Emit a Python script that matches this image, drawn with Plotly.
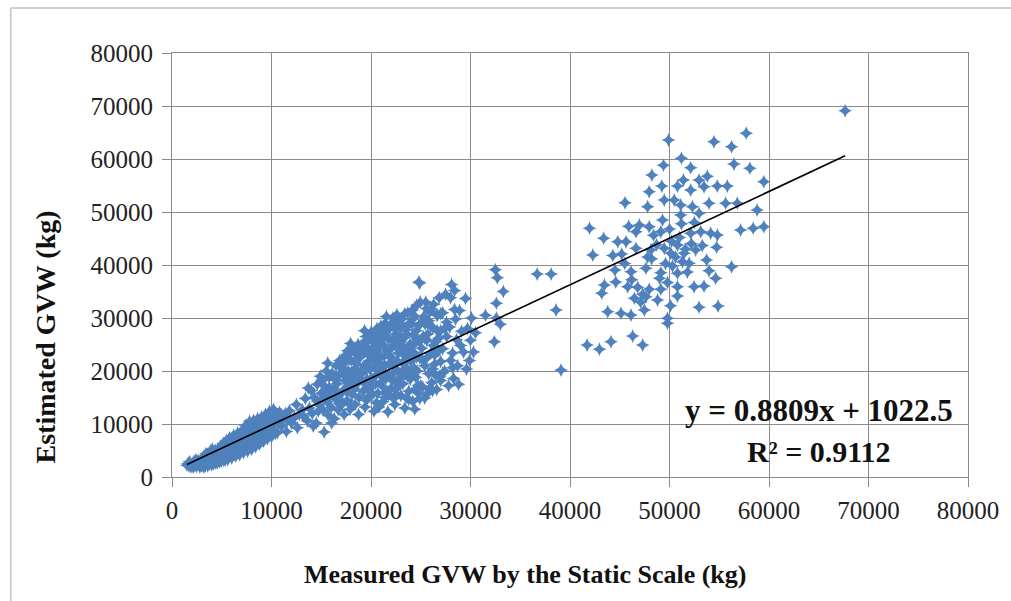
import plotly.graph_objects as go

# Measured GVW (x, kg) vs estimated GVW (y, kg), per cluster
light_trucks = [
    (1500,2200),(1600,2500),(1700,2100),(1800,2700),(1900,2300),(2000,2000),(2100,2600),(2200,2900),
    (2300,2200),(2400,2500),(2500,3100),(2600,2300),(2700,2700),(2800,1900),(2900,2500),(3000,3300),
    (2150,1900),(2450,2000),(2750,2300),(2950,2100),(1750,2900),(2350,3200),(2650,3000),(3050,2700),(1850,2000),
    (3100,2200),(3200,3000),(3300,3600),(3400,2500),(3500,3300),(3600,2800),(3700,4000),(3800,3000),
    (3900,2600),(4000,3700),(4100,4300),(4200,3200),(4300,2800),(4400,4000),(4500,3500),(4600,4700),
    (4700,3100),(4800,4200),(4900,3700),(5000,5000),(3150,3800),(3350,2100),(3550,4300),(3750,2400),
    (3950,4600),(4150,2500),(4350,5000),(4550,2700),(4750,5300),(4950,3000),(3450,3900),(3650,3500),
    (3850,4900),(4050,3100),(4250,4800),(4450,3300),(4650,4100),(4850,5700),(4050,5300),(4600,3600),
    (5100,3500),(5200,4500),(5300,5600),(5400,4000),(5500,3800),(5600,5200),(5700,6300),(5800,4600),
    (5900,4100),(6000,5800),(6100,6700),(6200,5000),(6300,4300),(6400,6200),(6500,7300),(6600,5400),
    (6700,4700),(6800,6600),(6900,7700),(7000,5600),(5150,6300),(5350,3200),(5450,6900),(5650,3600),
    (5750,7100),(5950,5300),(6050,4400),(6150,7500),(6350,5700),(6450,4600),(6550,8000),(6750,6000),
    (6850,5000),(6950,8400),(5250,5000),(5550,5900),(5850,6700),(6250,6900),(6650,7000),(5050,4300),
    (5350,4900),(5650,4500),(6050,6400),(6450,5500),(6850,7200),
    (7100,6100),(7200,7000),(7300,5300),(7400,8200),(7500,6500),(7600,5800),(7700,7600),(7800,9000),
    (7900,6300),(8000,7300),(8100,8600),(8200,5900),(8300,7800),(8400,9600),(8500,6800),(8600,8200),
    (8700,7200),(8800,10000),(8900,8600),(9000,7400),(7150,8900),(7250,5800),(7350,7400),(7450,9300),
    (7550,7000),(7650,6200),(7750,8300),(7850,10000),(7950,5500),(8050,8000),(8150,9900),(8250,6900),
    (8350,8800),(8450,10300),(8550,7600),(8650,9100),(8750,6400),(8850,9300),(8950,10500),(7050,7300),
    (7550,8700),(8050,6500),(8550,10400),(7350,6500),(8850,7900),
    (9100,9500),(9200,8100),(9300,10800),(9400,8800),(9500,10100),(9600,7700),(9700,11000),(9800,9300),
    (9900,10500),(10000,8600),(10100,11500),(10200,9700),(10400,10600),(10600,8400),(10800,12200),
    (11000,9600),(11200,11000),(11500,8600),(11800,12500),(12000,10200),(12300,11200),(12600,9300),
    (9250,9200),(9650,9700),(10300,12200),(10700,10100),(11400,12000),(12500,13700),(12800,11800),(13100,12700),
    (3200,1900),(3600,2100),(4000,2300),(4400,2600),(4800,2900),(5200,3100),(5600,3300),(6000,3600),
    (6400,3900),(6800,4200),(7200,4600),(7600,4900),(8000,5300),(8400,5700),(8800,6200),(9200,6800),
    (9600,7200),(10000,7600),(10400,8200),(3400,4400),(3800,4200),(4200,4500),(4600,5300),(5000,5800),
    (5400,6200),(5800,7400),(6200,7900),(6600,8300),(7000,8600),(7400,9700),(7800,10500),(8200,10700),
    (8600,11000),(9000,11300),(9400,11800),(9800,12400),(10200,12800),(5500,4700),(6000,5000),(6500,5000),
    (7000,6600),(7500,7600),(8000,8800),(8500,9000),(9000,9800),(9500,8700),(10000,10300),(10500,11300),
    (11000,11800),(11600,10700),
]

medium_trucks = [
    (13200,11500),(13400,14800),(13600,10600),(13800,13000),(14000,16300),(14100,12000),(14300,15000),
    (14500,10200),(14600,17500),(14800,13600),(14900,19000),(13700,16800),(14200,9600),(14700,12400),(15000,15800),
    (15100,18200),(15200,12600),(15300,8500),(15400,16000),(15500,20000),(15600,14200),(15700,11700),
    (15800,18800),(15900,15300),(16000,13100),(16100,19600),(16200,16800),(16300,11000),(16400,14800),
    (16500,21000),(16600,17600),(16700,12700),(16800,19200),(16900,15600),(17000,13600),(15250,17300),
    (15650,21500),(16050,10200),(16450,18300),(16850,22000),
    (17100,20600),(17200,16300),(17300,11800),(17400,18200),(17500,23000),(17600,14500),(17700,20000),
    (17800,17100),(17900,12800),(18000,22000),(18100,15600),(18200,24000),(18300,19300),(18400,13700),
    (18500,21400),(18600,17600),(18700,25000),(18800,15000),(18900,22700),(19000,19800),(17150,14000),
    (17550,18800),(17950,25200),(18350,16600),(18750,11800),(17650,23800),(18050,13500),(18450,23300),
    (18850,18400),(17350,21500),
    (19100,24300),(19200,16200),(19300,21000),(19400,13200),(19500,26500),(19600,18500),(19700,23200),
    (19800,15300),(19900,20300),(20000,27300),(20100,17100),(20200,22300),(20300,12400),(20400,25200),
    (20500,19200),(20600,28000),(20700,15800),(20800,21600),(20900,24600),(21000,17900),(19150,19600),
    (19350,27600),(19550,14500),(19750,21800),(19950,17200),(20150,26000),(20350,20800),(20550,14000),
    (20750,27200),(20950,22600),(19250,23600),(19650,16800),(20050,24000),(20450,17600),(20850,19500),
    (21100,25900),(21200,14200),(21300,22800),(21400,29000),(21500,18600),(21600,26500),(21700,12300),
    (21800,21300),(21900,28100),(22000,16700),(22100,24500),(22200,30000),(22300,19700),(22400,13700),
    (22500,27000),(22600,22000),(22700,17000),(22800,29500),(22900,24000),(23000,15400),(21050,20200),
    (21250,27300),(21450,16000),(21650,23800),(21850,19000),(22050,29000),(22250,14800),(22450,25000),
    (22650,20200),(22850,26600),(21150,17100),(21350,24700),(21550,30300),(21750,15500),(21950,22600),
    (22150,18200),(22350,28000),(22550,15600),(22750,23400),(22950,19500),(21400,21000),(21800,26000),
    (22200,21200),(22600,28600),(23000,25500),
    (23100,29800),(23200,17600),(23300,23000),(23400,13000),(23500,27800),(23600,20500),(23700,31000),
    (23800,16200),(23900,25000),(24000,21800),(24100,28800),(24200,14300),(24300,23500),(24400,30400),
    (24500,18800),(24600,26000),(24700,15900),(24800,36800),(24900,22500),(25000,29000),(23150,21500),
    (23350,26300),(23550,15000),(23750,24000),(23950,18500),(24150,31500),(24350,20500),(24550,27600),
    (24750,17300),(24950,33000),(23250,28300),(23650,19000),(24050,24700),(24450,16600),(24850,25600),
    (23450,22000),(23850,29000),(24250,26800),(24650,20000),(24900,14800),
    (25100,24300),(25200,17000),(25300,30300),(25400,21000),(25500,33000),(25600,15600),(25700,27000),
    (25800,19500),(25900,31200),(26000,23300),(26100,17800),(26200,28200),(26300,32600),(26400,21300),
    (26500,25500),(26600,16500),(26700,30500),(26800,23800),(26900,18900),(27000,27600),(25250,26500),
    (25650,22600),(26050,31700),(26450,19300),(26850,33800),(25450,28800),(25850,16600),(26250,24800),
    (26650,27600),(27000,21800),
    (27200,31000),(27400,20000),(27600,26500),(27800,17200),(28000,33800),(28100,36300),(28200,23400),
    (28300,18600),(28500,29800),(28600,25900),(28700,21000),(28900,31400),(29100,27500),(29300,23600),
    (29500,33700),(29700,28000),(29900,22000),(30000,25800),(30100,30000),(30300,23600),(27500,34500),
    (27900,28300),(28400,35200),(28800,17500),(29600,20400),
    (17200,19500),(17600,16000),(18000,18000),(18400,20500),(18800,22500),(19200,20000),(19600,24500),
    (20000,18500),(20400,22800),(20800,26000),(21200,19600),(21600,24200),(22000,21600),(22400,26300),
    (22800,18600),(23200,24600),(23600,27000),(24000,19400),(24400,25200),(24800,28600),(25200,22000),
    (25600,25800),(26000,28500),(26400,23000),(26800,26200),(27200,24200),(27600,29200),(28000,22000),
    (18200,17000),(18600,19800),(19000,23000),(19400,17600),(19800,26000),(20200,15600),(20600,23600),
    (21000,28500),(21400,15000),(21800,23000),(22200,25800),(22600,17800),(23000,28000),(23400,19600),
    (23800,23000),(24200,29800),(24600,22600),(25000,17200),(25400,26200),(25800,29500),(26200,20400),
    (26600,30600),(27000,18200),(27400,28000),(16400,16300),(16800,13800),(17200,22400),(15800,16900),
    (15200,14800),(14600,14300),(19400,25600),(20800,13200),(22400,16500),(23800,14600),(24400,12800),
    (25400,14900),(26200,16300),(27200,19600),(28200,20600),(29000,24800),(28400,31600),(27000,30800),
    (25600,31800),(24600,32400),(23400,30800),(22600,30600),(21600,28200),(20600,26600),(19600,25800),
    (18600,23400),(17800,22200),(16800,21000),
]

transition_trucks = [
    (30500,27200),(31500,30500),(32500,39100),(32700,37600),(33300,35000),(32600,32800),(32600,30000),
    (32400,25500),(33000,28800),(36700,38300),(38100,38300),(38600,31500),(39100,20200),(24900,36600),
]

heavy_trucks = [
    (67650,69120),(49900,63590),(54470,63270),(56240,62330),(57710,64860),(51200,60140),(49400,58820),
    (52130,58330),(56480,59060),(58080,58250),(48230,56990),(59480,55720),(49230,54910),(50800,54910),
    (51400,56040),(52970,56040),(53800,56740),(53470,54780),(54800,54910),(55810,54910),(52130,54160),
    (47960,53840),(45530,51760),(47800,51010),(49470,52270),(50470,52270),(51130,51330),(52300,51010),
    (53970,51640),(55640,51640),(56810,51640),(58810,50380),(52970,49760),(49300,48500),(51130,49440),
    (41960,46930),(46970,47550),(47960,47230),(49130,46290),(57140,46610),(58410,46930),(59480,47230),
    (46630,46290),(43390,45050),(44800,44410),(45630,44410),(53140,46290),(54140,45980),(54810,45670),
    (52130,45980),(42290,41890),(45200,42080),(46630,43150),(48130,42830),(49470,43150),(50130,42210),
    (50800,43780),(51470,42210),(51300,40630),(51970,40320),(52630,42830),(53730,40950),(54740,43350),
    (44520,39060),(46130,38740),(47630,39380),(49130,38560),(50800,38440),(53970,38930),(54640,37500),
    (56240,39680),(43460,36230),(43190,34660),(45800,35910),(46800,35790),(47960,35420),(49130,35420),
    (50800,35910),(52470,35910),(53470,36040),(46470,33720),(47630,34020),(48800,33400),(50800,34150),
    (43790,31190),(45130,30890),(46130,30570),(47470,31510),(49800,29950),(49800,29000),(52970,32020),
    (54880,32270),(41720,24910),(42960,24100),(44120,25530),(46300,26610),(47300,24910),(47300,34500),
    (48200,41200),(48700,43800),(49600,40300),(50200,44500),(50600,41500),(51000,45200),(51600,43000),
    (51800,38700),(52200,44000),(49000,37500),(50300,39800),(47800,41500),(50000,46800),(51200,47800),
    (52500,48000),(53300,43700),(48400,45600),(49800,36700),(50100,32300),(46200,37200),(45500,40300),
    (44300,41800),(45900,47300),(44600,36800),(47100,33000),
]

trend_slope = 0.8809
trend_intercept = 1022.5
axis_ticks = [0, 10000, 20000, 30000, 40000, 50000, 60000, 70000, 80000]
x_title = "Measured GVW by the Static Scale (kg)"
y_title = "Estimated GVW (kg)"
eq_text = "y = 0.8809x + 1022.5"
r2_text = "R² = 0.9112"

all_points = light_trucks + medium_trucks + transition_trucks + heavy_trucks
measured_gvw = [p[0] for p in all_points]
estimated_gvw = [p[1] for p in all_points]

trend_x = [min(measured_gvw), max(measured_gvw)]
trend_y = [trend_slope * v + trend_intercept for v in trend_x]

SERIF = "Liberation Serif, Times New Roman, serif"
GRID = "#8a8a8a"

fig = go.Figure()
fig.add_trace(go.Scatter(
    x=measured_gvw, y=estimated_gvw, mode="markers",
    marker=dict(symbol="star-diamond", size=10, color="#4F81BD", line=dict(width=0)),
    showlegend=False, hoverinfo="x+y",
))
fig.add_trace(go.Scatter(
    x=trend_x, y=trend_y, mode="lines",
    line=dict(color="black", width=1.6), showlegend=False, hoverinfo="skip",
))

axis_common = dict(
    range=[0, 80000], tickvals=axis_ticks, ticktext=[str(t) for t in axis_ticks],
    showgrid=True, gridcolor=GRID, gridwidth=1,
    showline=True, linecolor=GRID, linewidth=1, mirror=True,
    zeroline=False, ticks="outside", ticklen=9, tickcolor=GRID,
    tickfont=dict(family=SERIF, size=25, color="#222222"),
)
fig.update_xaxes(**axis_common)
fig.update_yaxes(**axis_common)
fig.update_yaxes(ticklabelstandoff=4)
fig.update_xaxes(ticklabelstandoff=2)

fig.update_layout(
    width=1011, height=601,
    margin=dict(l=172, r=39, t=53, b=124),
    paper_bgcolor="white", plot_bgcolor="white",
    annotations=[
        dict(text="<b>" + x_title + "</b>", xref="paper", yref="paper", x=0.444, y=-0.231,
             showarrow=False, font=dict(family=SERIF, size=26, color="#111111"),
             xanchor="center", yanchor="middle"),
        dict(text="<b>" + y_title + "</b>", xref="paper", yref="paper", x=-0.159, y=0.33,
             showarrow=False, textangle=-90, font=dict(family=SERIF, size=28, color="#111111"),
             xanchor="center", yanchor="middle"),
        dict(text="<b>" + eq_text + "</b>", xref="paper", yref="paper", x=0.813, y=0.158,
             showarrow=False, font=dict(family=SERIF, size=31, color="#111111"),
             xanchor="center", yanchor="middle"),
        dict(text="<b>" + r2_text + "</b>", xref="paper", yref="paper", x=0.8125, y=0.059,
             showarrow=False, font=dict(family=SERIF, size=30, color="#111111"),
             xanchor="center", yanchor="middle"),
    ],
    shapes=[
        dict(type="line", xref="paper", yref="paper", x0=-0.2025, x1=1.06, y0=1.106, y1=1.106,
             line=dict(color="#d0d0d0", width=2)),
        dict(type="line", xref="paper", yref="paper", x0=-0.2025, x1=-0.2025, y0=1.106, y1=-0.3,
             line=dict(color="#d0d0d0", width=2)),
    ],
)

fig.write_html("out.html")
